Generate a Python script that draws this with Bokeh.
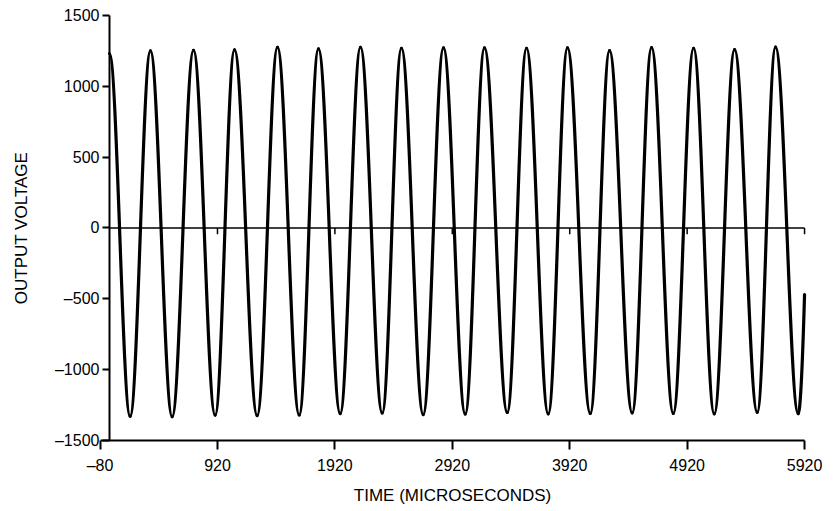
import math
from bokeh.plotting import figure
from bokeh.models import FixedTicker
from bokeh.embed import file_html
from bokeh.resources import INLINE

# Extrema of the output voltage waveform (time in microseconds, voltage)
peak_time = [0, 349, 716, 1065, 1431, 1780, 2138, 2487, 2845, 3194, 3552, 3901, 4259, 4617, 4975, 5324, 5673]
peak_volt = [1232, 1250, 1254, 1257, 1275, 1265, 1276, 1269, 1272, 1272, 1269, 1272, 1252, 1273, 1269, 1259, 1277]
trough_time = [176, 534, 900, 1258, 1616, 1965, 2323, 2672, 3030, 3388, 3737, 4095, 4452, 4802, 5151, 5517, 5866]
trough_volt = [-1329, -1332, -1321, -1324, -1320, -1310, -1306, -1317, -1313, -1302, -1312, -1309, -1305, -1309, -1312, -1301, -1311]
end_time = 5930
end_volt = -470

x_ticks = [-80, 920, 1920, 2920, 3920, 4920, 5920]
x_tick_labels = ["–80", "920", "1920", "2920", "3920", "4920", "5920"]
y_ticks = [-1500, -1000, -500, 0, 500, 1000, 1500]
y_tick_labels = ["–1500", "–1000", "–500", "0", "500", "1000", "1500"]

zero_line_time = [0, 5920]
zero_line_volt = [0, 0]
zero_line_marks = [920, 1920, 2920, 3920, 4920, 5920]
zero_mark_depth = 45

FONT = "Liberation Sans"

p = figure(width=830, height=505, x_range=(-928, 6141), y_range=(-1959, 1606),
           output_backend="svg", toolbar_location=None,
           min_border_left=0, min_border_right=0, min_border_top=0, min_border_bottom=0,
           background_fill_color="white", border_fill_color="white", outline_line_color=None)
p.grid.visible = False

# interleave extrema
ext_t, ext_v = [], []
for i in range(len(peak_time)):
    ext_t += [peak_time[i], trough_time[i]]
    ext_v += [peak_volt[i], trough_volt[i]]

c = 1 - 2 / math.pi
x0 = ext_t[:-1]; y0 = ext_v[:-1]; x1 = ext_t[1:]; y1 = ext_v[1:]
cx0 = [a + c * (b - a) for a, b in zip(x0, x1)]
cx1 = [b - c * (b - a) for a, b in zip(x0, x1)]
p.bezier(x0=x0, y0=y0, x1=x1, y1=y1, cx0=cx0, cy0=y0, cx1=cx1, cy1=y1,
         line_color="black", line_width=3.2, line_cap="round")
# final partial rise, cut at the end of the time axis
lt, lv = ext_t[-1], ext_v[-1]
last_t = min(end_time, x_ticks[-1])
p.quadratic(x0=[lt], y0=[lv], x1=[last_t], y1=[end_volt],
            cx=[lt + 0.45 * (last_t - lt)], cy=[lv],
            line_color="black", line_width=3.2, line_cap="round")

# zero reference line with small marks
p.line(zero_line_time, zero_line_volt, line_color="black", line_width=1.6)
p.segment(x0=zero_line_marks, y0=[0] * len(zero_line_marks),
          x1=zero_line_marks, y1=[-zero_mark_depth] * len(zero_line_marks),
          line_color="black", line_width=1.5)

for ax in (p.xaxis[0], p.yaxis[0]):
    ax.axis_line_color = "black"
    ax.axis_line_width = 2
    ax.major_tick_line_color = "black"
    ax.major_tick_line_width = 2
    ax.major_tick_in = 0
    ax.minor_tick_in = 0
    ax.minor_tick_out = 0
    ax.major_label_text_font = FONT
    ax.major_label_text_font_size = "16px"
    ax.major_label_text_color = "black"
    ax.axis_label_text_font = FONT
    ax.axis_label_text_font_size = "17px"
    ax.axis_label_text_font_style = "normal"
    ax.axis_label_text_color = "black"

p.xaxis.ticker = FixedTicker(ticks=x_ticks)
p.xaxis.major_label_overrides = {t: l for t, l in zip(x_ticks, x_tick_labels)}
p.xaxis.major_tick_out = 9
p.xaxis.major_label_standoff = 8
p.xaxis.axis_label = "TIME (MICROSECONDS)"
p.xaxis.axis_label_standoff = 8
p.xaxis.fixed_location = y_ticks[0]
p.xaxis.bounds = (x_ticks[0], x_ticks[-1])

p.yaxis.ticker = FixedTicker(ticks=y_ticks)
p.yaxis.major_label_overrides = {t: l for t, l in zip(y_ticks, y_tick_labels)}
p.yaxis.major_tick_out = 7
p.yaxis.major_label_standoff = 3
p.yaxis.axis_label = "OUTPUT VOLTAGE"
p.yaxis.axis_label_standoff = 21
p.yaxis.fixed_location = 0
p.yaxis.bounds = (y_ticks[0], y_ticks[-1])

open("out.html", "w").write(file_html(p, INLINE))
